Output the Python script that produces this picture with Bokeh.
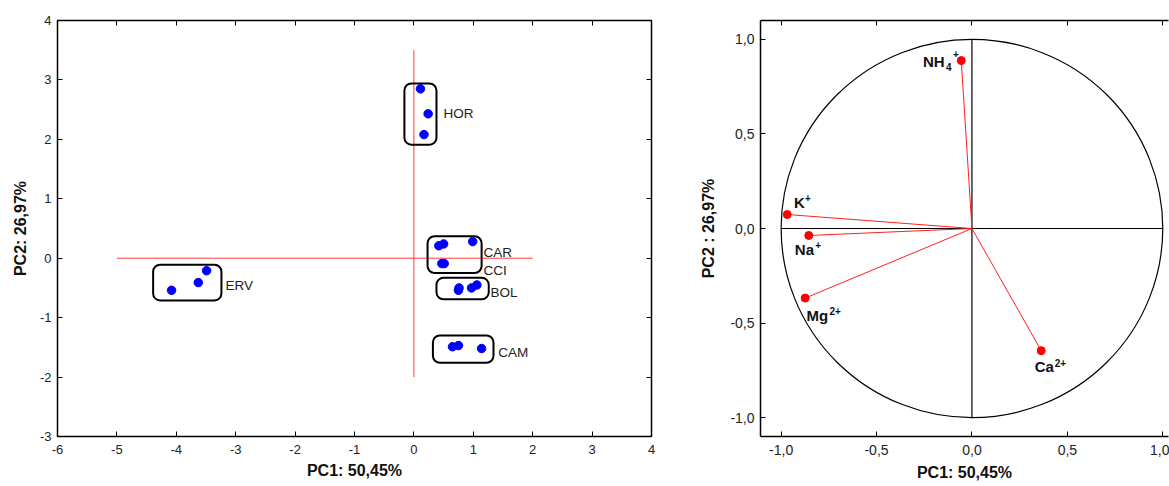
from bokeh.plotting import figure
from bokeh.layouts import row
from bokeh.models import LinearAxis, FixedTicker, CustomJSTickFormatter, Range1d
from bokeh.core.properties import value
from bokeh.embed import file_html
from bokeh.resources import INLINE

FONT = "Liberation Sans"

# ---- PCA scores (left) ----
score_x = [0.11, 0.24, 0.17,            # HOR
           0.42, 0.50, 0.99,            # CAR
           0.47, 0.51,                  # CCI
           0.75, 0.76, 0.97, 1.06,      # BOL
           0.65, 0.75, 1.14,            # CAM
           -3.49, -3.63, -4.08]         # ERV
score_y = [2.85, 2.43, 2.08,
           0.21, 0.24, 0.28,
           -0.09, -0.09,
           -0.54, -0.50, -0.50, -0.45,
           -1.49, -1.47, -1.52,
           -0.21, -0.41, -0.54]

# group enclosing boxes
box_left = [-0.16, 0.23, 0.38, 0.32, -4.39]
box_right = [0.38, 1.14, 1.26, 1.34, -3.24]
box_top = [2.94, 0.37, -0.33, -1.30, -0.11]
box_bottom = [1.91, -0.25, -0.69, -1.76, -0.71]

group_names = ["HOR", "CAR", "CCI", "BOL", "CAM", "ERV"]
group_lx = [0.50, 1.17, 1.17, 1.29, 1.42, -3.17]
group_ly = [2.43, 0.10, -0.20, -0.58, -1.59, -0.46]

# reference cross lines
hline_x = [-5, 2]
hline_y = [0, 0]
vline_x = [0, 0]
vline_y = [-2, 3.5]

# ---- PCA loadings (right) ----
ion_base = ["NH", "K", "Na", "Mg", "Ca"]
ion_sup = ["+", "+", "+", "2+", "2+"]
ion_sub = ["4", "", "", "", ""]
load_x = [-0.056, -0.968, -0.855, -0.874, 0.363]
load_y = [0.888, 0.074, -0.037, -0.368, -0.646]
ion_lx = [-0.257, -0.933, -0.928, -0.867, 0.329]
ion_ly = [0.881, 0.140, -0.110, -0.460, -0.730]

left_xticks = [-6, -5, -4, -3, -2, -1, 0, 1, 2, 3, 4]
left_yticks = [-3, -2, -1, 0, 1, 2, 3, 4]
right_ticks = [-1.0, -0.5, 0.0, 0.5, 1.0]

# text placement styles (screen pixels)
sup_dx = [30, 11, 20.5, 23, 20]
sup_dy = [-8, -4, -4, -4, -4]
sub_dx = 23
sub_dy = 5

blank = CustomJSTickFormatter(code="return '';")
int_fmt = CustomJSTickFormatter(code="return tick.toFixed(0);")
dec_fmt = CustomJSTickFormatter(code="return tick.toFixed(1).replace('.', ',');")


def style_axis(ax, ticker, show_labels=True):
    ax.ticker = ticker
    ax.major_tick_in = 5
    ax.major_tick_out = 0
    ax.minor_tick_in = 3
    ax.minor_tick_out = 0
    ax.axis_line_color = "black"
    ax.major_tick_line_color = "black"
    ax.minor_tick_line_color = "black"
    ax.major_label_text_font = FONT
    ax.major_label_text_font_size = "13px"
    ax.major_label_text_color = "#222222"
    ax.axis_label_text_font = FONT
    ax.axis_label_text_font_style = "bold"
    ax.axis_label_text_font_size = "16px"
    ax.axis_label_text_color = "#111111"
    if not show_labels:
        ax.formatter = blank
        ax.major_label_standoff = 0


# ================= left figure =================
p1 = figure(width=660, height=486, output_backend="svg", toolbar_location=None,
            x_range=Range1d(-6, 4), y_range=Range1d(-3, 4),
            min_border_left=57, min_border_right=9, min_border_top=20, min_border_bottom=48)
p1.grid.visible = False
p1.outline_line_color = "black"
p1.outline_line_width = 1.5

style_axis(p1.xaxis[0], FixedTicker(ticks=left_xticks, num_minor_ticks=5))
style_axis(p1.yaxis[0], FixedTicker(ticks=left_yticks, num_minor_ticks=5))
p1.xaxis[0].formatter = int_fmt
p1.yaxis[0].formatter = int_fmt
p1.xaxis[0].axis_label = "PC1: 50,45%"
p1.yaxis[0].axis_label = "PC2: 26,97%"
p1.xaxis[0].major_label_standoff = 8
p1.yaxis[0].major_label_standoff = 6
p1.xaxis[0].axis_label_standoff = 5
p1.yaxis[0].axis_label_standoff = 8

top1 = LinearAxis()
style_axis(top1, FixedTicker(ticks=left_xticks, num_minor_ticks=5), show_labels=False)
p1.add_layout(top1, "above")
right1 = LinearAxis()
style_axis(right1, FixedTicker(ticks=left_yticks, num_minor_ticks=5), show_labels=False)
p1.add_layout(right1, "right")

p1.line(hline_x, hline_y, line_color="#ff3b3b", line_width=1)
p1.line(vline_x, vline_y, line_color="#ff3b3b", line_width=1)

p1.quad(left=box_left, right=box_right, top=box_top, bottom=box_bottom,
        fill_color=None, line_color="black", line_width=2, border_radius=7)

p1.scatter(score_x, score_y, size=8.5, marker="circle",
           fill_color="#0000ff", line_color="#0000ff")

p1.text(group_lx, group_ly, text=group_names, text_font=value(FONT),
        text_font_size="13.5px", text_color="#222222",
        text_align="left", text_baseline="middle")

# ================= right figure =================
p2 = figure(width=509, height=486, output_backend="svg", toolbar_location=None,
            x_range=Range1d(-1.108, 1.03), y_range=Range1d(-1.1, 1.1),
            min_border_left=100, min_border_right=1, min_border_top=16, min_border_bottom=50)
p2.grid.visible = False
p2.outline_line_color = None

style_axis(p2.xaxis[0], FixedTicker(ticks=right_ticks, num_minor_ticks=5))
style_axis(p2.yaxis[0], FixedTicker(ticks=right_ticks, num_minor_ticks=5))
for ax in (p2.xaxis[0], p2.yaxis[0]):
    ax.formatter = dec_fmt
    ax.axis_line_width = 1.5
    ax.major_label_text_font_size = "14px"
p2.xaxis[0].axis_label = "PC1: 50,45%"
p2.yaxis[0].axis_label = "PC2 : 26,97%"
p2.xaxis[0].major_label_standoff = 8
p2.yaxis[0].major_label_standoff = 6
p2.xaxis[0].axis_label_standoff = 6
p2.yaxis[0].axis_label_standoff = 10

top2 = LinearAxis()
style_axis(top2, FixedTicker(ticks=right_ticks, num_minor_ticks=5), show_labels=False)
top2.axis_line_width = 1.5
p2.add_layout(top2, "above")

p2.ellipse(x=[0], y=[0], width=[2], height=[2], fill_color=None,
           line_color="black", line_width=1.2)
p2.line([-1, 1], [0, 0], line_color="black", line_width=1.2)
p2.line([0, 0], [-1, 1], line_color="black", line_width=1.2)

p2.segment(x0=[0] * len(load_x), y0=[0] * len(load_y), x1=load_x, y1=load_y,
           line_color="#ff2020", line_width=1)
p2.scatter(load_x, load_y, size=8, marker="circle",
           fill_color="#ff0000", line_color="#ff0000")

for i in range(len(ion_base)):
    p2.text([ion_lx[i]], [ion_ly[i]], text=[ion_base[i]], text_font=value(FONT),
            text_font_size="15px", text_font_style="bold", text_color="#111111",
            text_align="left", text_baseline="middle")
    p2.text([ion_lx[i]], [ion_ly[i]], text=[ion_sup[i]], text_font=value(FONT),
            text_font_size="10px", text_font_style="bold", text_color="#111111",
            text_align="left", text_baseline="middle",
            x_offset=sup_dx[i], y_offset=sup_dy[i])
    if ion_sub[i]:
        p2.text([ion_lx[i]], [ion_ly[i]], text=[ion_sub[i]], text_font=value(FONT),
                text_font_size="10px", text_font_style="bold", text_color="#111111",
                text_align="left", text_baseline="middle",
                x_offset=sub_dx, y_offset=sub_dy)

layout = row(p1, p2)
open("out.html", "w").write(file_html(layout, INLINE))
